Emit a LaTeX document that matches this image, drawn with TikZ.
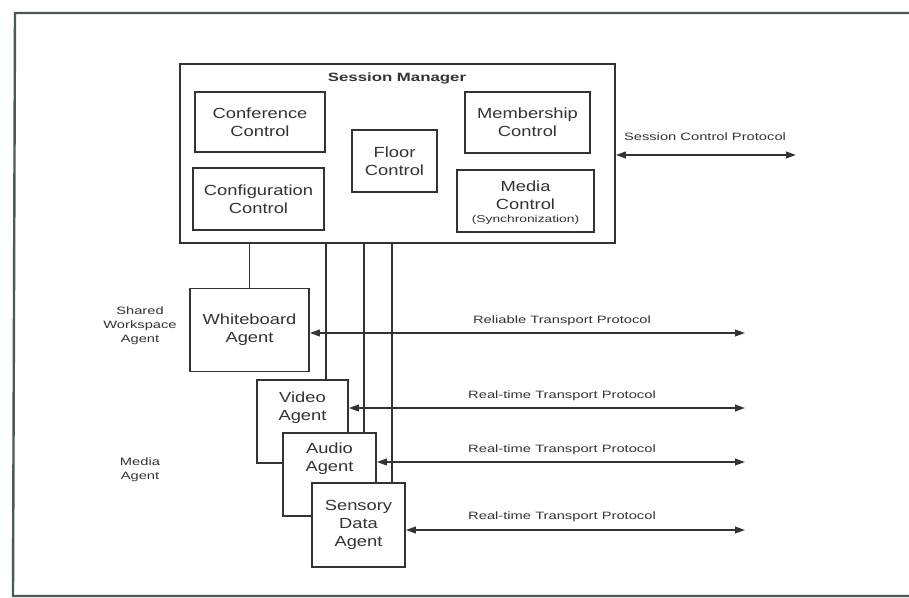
\documentclass[tikz,border=0pt]{standalone}
\usepackage{fontspec}
\setmainfont{Liberation Sans}
\newfontfamily\boxfont[FakeStretch=1.25]{Liberation Sans}
\newfontfamily\smallfont[FakeStretch=1.38]{Liberation Sans}
\newfontfamily\titlefont[FakeStretch=1.4]{Liberation Sans}
\usetikzlibrary{arrows.meta,calc}
\definecolor{ink}{HTML}{333333}
\definecolor{framecol}{HTML}{4A5A58}
\tikzset{
  box/.style={draw=ink, line width=1.2pt, fill=white, inner sep=0pt, align=center,
    font=\boxfont\fontsize{11}{13.5}\selectfont, text=ink},
  boxtext/.style={inner sep=0pt, align=center, font=\boxfont\fontsize{11}{13.5}\selectfont, text=ink},
  note/.style={inner sep=0pt, align=center, font=\smallfont\fontsize{8}{10.5}\selectfont, text=ink},
  link/.style={draw=ink, line width=1.4pt},
  proto/.style={draw=ink, line width=1.3pt,
    {Triangle[length=7.5pt,width=5pt]}-{Triangle[length=7.5pt,width=5pt]}},
  framing/.style={draw=framecol, line width=1.8pt}
}
\begin{document}
\begin{tikzpicture}[x=0.75pt,y=-0.75pt]
\useasboundingbox (0,0) rectangle (909,598);
% outer frame (open on the right)
\coordinate (ftr) at (909,13);
\coordinate (ftl) at (15,13);
\coordinate (fbl) at (13,596);
\coordinate (fbr) at (909,596);
\draw[framing] (ftr) -- (ftl) -- (fbl) -- (fbr);

% session manager and its components
\node[box, minimum width=326.25pt, minimum height=134.25pt] (sm) at (397.5,153.5) {};
\node[inner sep=0pt, font=\titlefont\bfseries\fontsize{9}{11}\selectfont, text=ink] (smt) at (397,78) {Session Manager};
\node[box, minimum width=97.5pt, minimum height=45pt] (conf) at (260,122) {Conference\\Control};
\node[box, minimum width=98.25pt, minimum height=46.5pt] (config) at (258.5,199) {Configuration\\Control};
\node[box, minimum width=63.75pt, minimum height=46.5pt] (floor) at (394.5,161) {Floor\\Control};
\node[box, minimum width=93.75pt, minimum height=45.75pt] (memb) at (527.5,122.5) {Membership\\Control};
\node[box, minimum width=102.75pt, minimum height=46.5pt] (media) at (525.5,201) {};
\node[boxtext] (mediat) at (525.5,195) {Media\\Control};
\node[note, font=\smallfont\fontsize{7.5}{9}\selectfont] (sync) at (525.5,220) {(Synchronization)};

% session control protocol
\coordinate (scp) at (796,155);
\draw[proto] (sm.east |- scp) -- (scp);
\node[note] at (705,137) {Session Control Protocol};

% agents (drawn back to front so they overlap)
\node[box, minimum width=89.25pt, minimum height=62.25pt] (wb) at (249.5,330) {Whiteboard\\Agent};
\node[box, minimum width=68.25pt, minimum height=62.25pt] (video) at (302.5,421.5) {};
\node[boxtext, anchor=north] at ($(video.north)+(0,12)$) {Video\\Agent};
\node[box, minimum width=69.75pt, minimum height=62.25pt] (audio) at (329.5,474.5) {};
\node[boxtext, anchor=north] at ($(audio.north)+(0,10)$) {Audio\\Agent};
\node[box, minimum width=69.75pt, minimum height=63pt] (sensory) at (358.5,525) {Sensory\\Data\\Agent};

% side captions
\node[note] at (140,326) {Shared\\Workspace\\Agent};
\node[note] at (140,470) {Media\\Agent};

% links from the session manager down to the agents
\draw[link] (wb.north) -- (wb.north |- sm.south);
\coordinate (vtop) at ($(video.north west)+(70,0)$);
\coordinate (atop) at ($(audio.north west)+(82,0)$);
\coordinate (stop) at ($(sensory.north west)+(81,0)$);
\draw[link] (vtop) -- (vtop |- sm.south);
\draw[link] (atop) -- (atop |- sm.south);
\draw[link] (stop) -- (stop |- sm.south);

% transport protocol connectors
\coordinate (e1) at (745,333);
\coordinate (e2) at (745,408);
\coordinate (e3) at (745,462);
\coordinate (e4) at (745,530);
\draw[proto] (wb.east |- e1) -- (e1);
\draw[proto] (video.east |- e2) -- (e2);
\draw[proto] (audio.east |- e3) -- (e3);
\draw[proto] (sensory.east |- e4) -- (e4);
\node[note] at (562,321) {Reliable Transport Protocol};
\node[note] at (562,396) {Real-time Transport Protocol};
\node[note] at (562,450) {Real-time Transport Protocol};
\node[note] at (562,517) {Real-time Transport Protocol};
\end{tikzpicture}
\end{document}
